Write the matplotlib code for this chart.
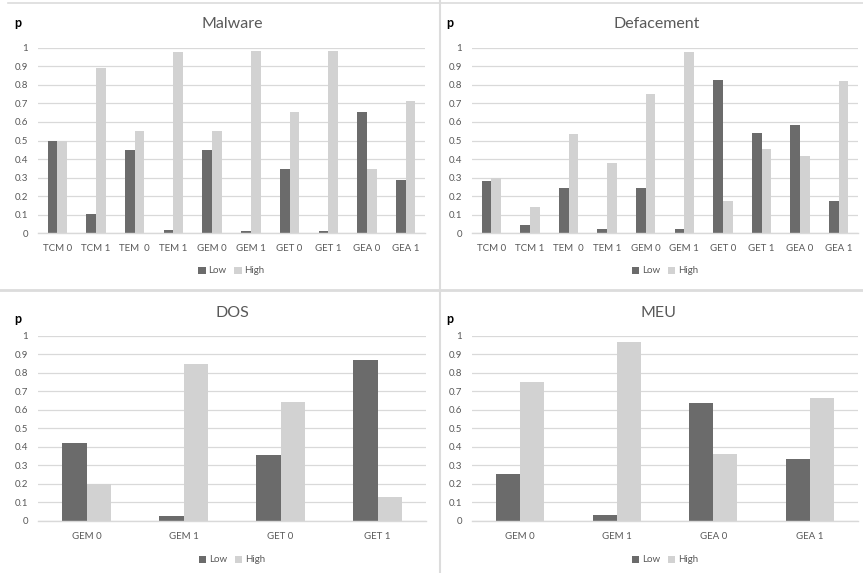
import matplotlib
matplotlib.use("Agg")
import matplotlib.pyplot as plt
from matplotlib.lines import Line2D
from matplotlib.patches import Patch
import numpy as np

plt.rcParams['font.family'] = ['Lato', 'DejaVu Sans']

# ---------------- data ----------------
malware_cats = ["TCM 0", "TCM 1", "TEM  0", "TEM 1", "GEM 0", "GEM 1", "GET 0", "GET 1", "GEA 0", "GEA 1"]
malware_low = [0.50, 0.105, 0.45, 0.018, 0.45, 0.015, 0.348, 0.015, 0.652, 0.285]
malware_high = [0.50, 0.893, 0.55, 0.977, 0.55, 0.984, 0.652, 0.984, 0.348, 0.715]

deface_cats = ["TCM 0", "TCM 1", "TEM  0", "TEM 1", "GEM 0", "GEM 1", "GET 0", "GET 1", "GEA 0", "GEA 1"]
deface_low = [0.28, 0.043, 0.246, 0.023, 0.246, 0.023, 0.826, 0.542, 0.583, 0.176]
deface_high = [0.30, 0.14, 0.533, 0.379, 0.75, 0.977, 0.176, 0.454, 0.418, 0.82]

dos_cats = ["GEM 0", "GEM 1", "GET 0", "GET 1"]
dos_low = [0.419, 0.025, 0.358, 0.867]
dos_high = [0.20, 0.845, 0.64, 0.131]

meu_cats = ["GEM 0", "GEM 1", "GEA 0", "GEA 1"]
meu_low = [0.252, 0.034, 0.637, 0.335]
meu_high = [0.748, 0.964, 0.362, 0.664]

yticks = [0, 0.1, 0.2, 0.3, 0.4, 0.5, 0.6, 0.7, 0.8, 0.9, 1]
ytick_labels = ["0", "0.1", "0.2", "0.3", "0.4", "0.5", "0.6", "0.7", "0.8", "0.9", "1"]
series_names = ["Low", "High"]

# ---------------- style ----------------
W, H = 863, 573
LOW_C = "#6b6b6b"
HIGH_C = "#d2d2d2"
GRID_C = "#d9d9d9"
TXT_C = "#595959"
SEP_C = "#dcdcdc"

fig = plt.figure(figsize=(W / 100, H / 100), dpi=100)
fig.patch.set_facecolor("white")


def fx(x):
    return x / W


def fy(y):
    return 1 - y / H


def panel(cats, low, high, title, xl, xr, ytop, ybot, title_x, title_y, p_x, p_y, leg_y):
    ax = fig.add_axes([fx(xl), fy(ybot), fx(xr) - fx(xl), fy(ytop) - fy(ybot)])
    n = len(cats)
    x = np.arange(n)
    bw = 0.25
    ax.bar(x - bw / 2, low, width=bw, color=LOW_C, label=series_names[0], zorder=3)
    ax.bar(x + bw / 2, high, width=bw, color=HIGH_C, label=series_names[1], zorder=3)
    ax.set_xlim(-0.5, n - 0.5)
    ax.set_ylim(0, 1)
    ax.set_yticks(yticks)
    ax.set_yticklabels(ytick_labels)
    ax.set_xticks(x)
    ax.set_xticklabels(cats)
    for s in ax.spines.values():
        s.set_visible(False)
    ax.yaxis.grid(True, color=GRID_C, linewidth=0.9, zorder=0)
    ax.set_axisbelow(True)
    ax.tick_params(axis="y", length=0, pad=7, labelsize=7, labelcolor=TXT_C)
    ax.tick_params(axis="x", length=0, pad=8, labelsize=7, labelcolor=TXT_C)
    ax.axhline(0, color=GRID_C, linewidth=1.0, zorder=4, clip_on=False)
    fig.text(fx(title_x), fy(title_y), title, ha="center", va="center", fontsize=11.5, color=TXT_C)
    fig.text(fx(p_x), fy(p_y), "p", ha="center", va="center", fontsize=9, fontweight="bold", color="black")
    handles = [Patch(facecolor=LOW_C, edgecolor="none"), Patch(facecolor=HIGH_C, edgecolor="none")]
    fig.legend(handles, series_names, loc="center", bbox_to_anchor=(fx((xl + xr) / 2), fy(leg_y)),
               ncol=2, frameon=False, fontsize=7, labelcolor=TXT_C, handlelength=0.75, handleheight=0.75,
               handletextpad=0.3, columnspacing=0.8, borderaxespad=0)
    return ax


panel(malware_cats, malware_low, malware_high, "Malware", 38, 425, 47.7, 233.3, 232, 24, 18, 23, 271)
panel(deface_cats, deface_low, deface_high, "Defacement", 472, 858, 47.7, 233.3, 657, 24, 450, 23, 271)
panel(dos_cats, dos_low, dos_high, "DOS", 38, 426, 335.7, 521, 232, 313, 18, 319, 560)
panel(meu_cats, meu_low, meu_high, "MEU", 472, 858, 335.7, 521, 658, 313, 450, 319, 560)

# separator lines between the four charts
fig.add_artist(Line2D([fx(8), 1], [fy(3), fy(3)], color=SEP_C, linewidth=1.2))
fig.add_artist(Line2D([0, 1], [fy(290), fy(290)], color=SEP_C, linewidth=2.0))
fig.add_artist(Line2D([fx(440), fx(440)], [0, 1], color=SEP_C, linewidth=1.5))

fig.savefig("out.png", dpi=100, facecolor="white")
